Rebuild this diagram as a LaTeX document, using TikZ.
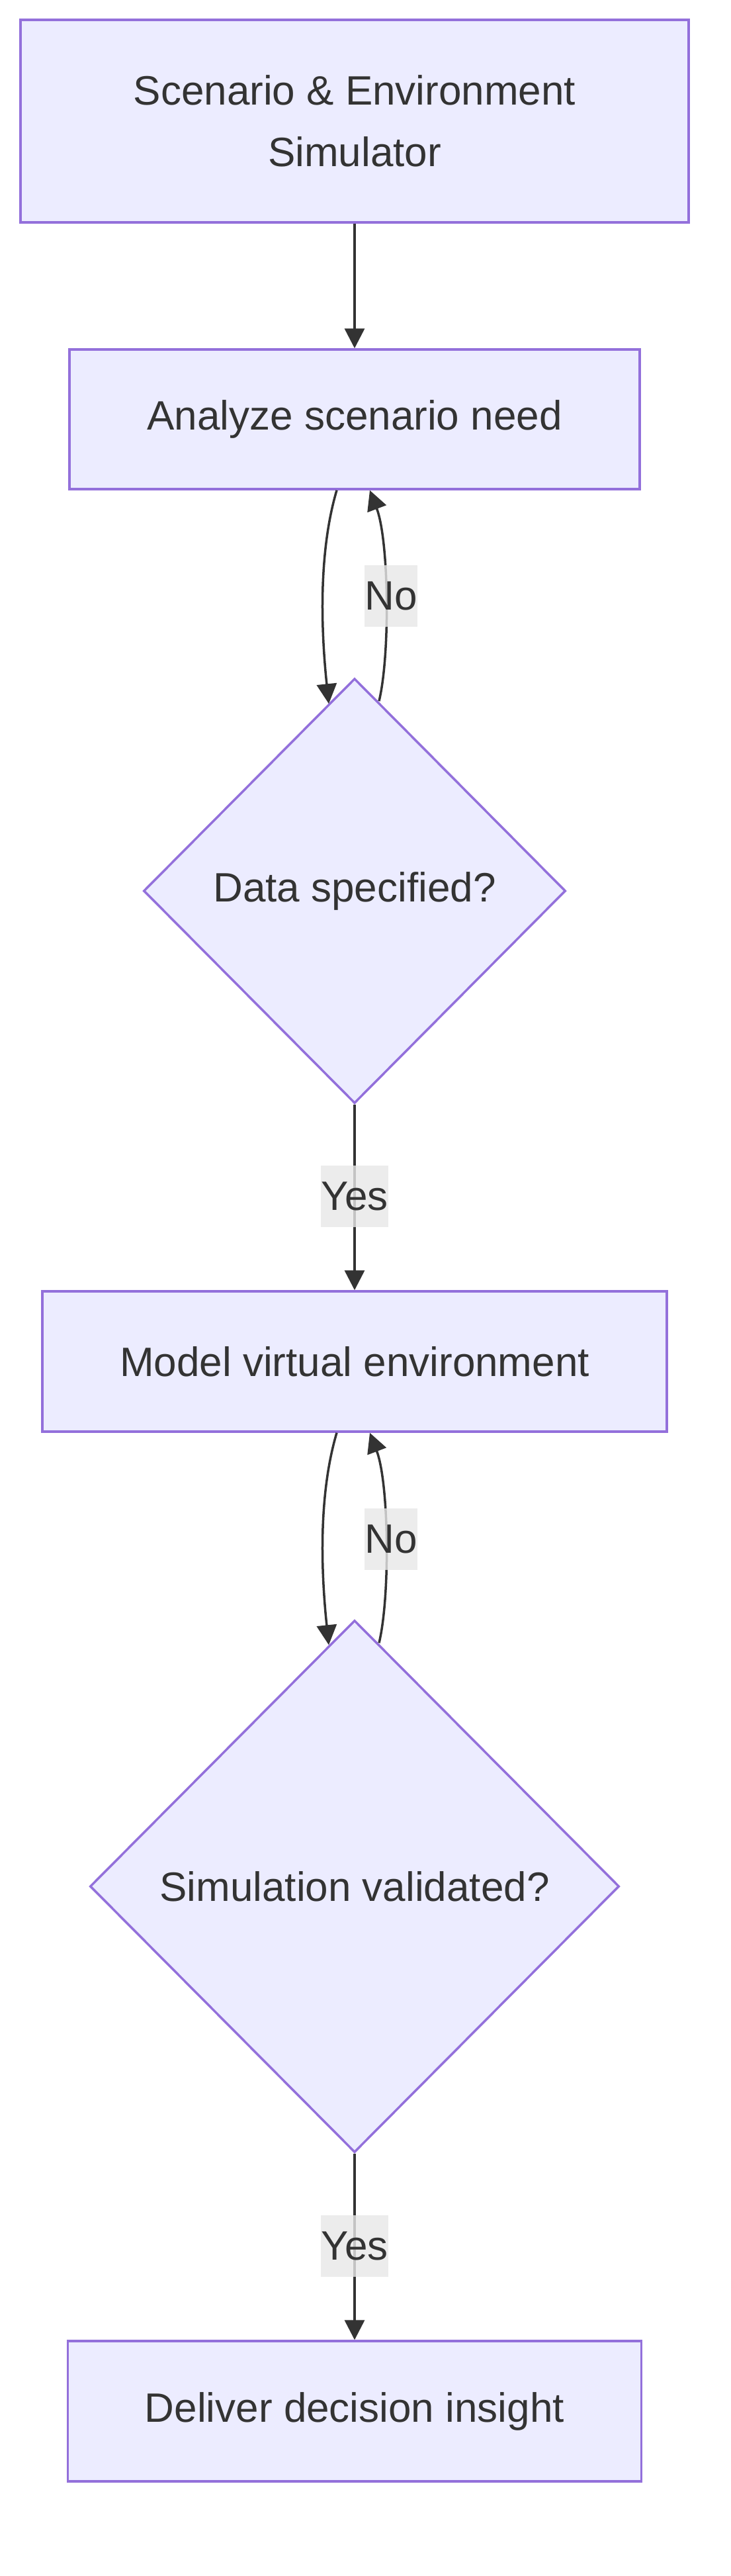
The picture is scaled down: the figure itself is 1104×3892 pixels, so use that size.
\documentclass[tikz,border=0pt]{standalone}
\usepackage{fontspec}
\setmainfont{Liberation Sans}
\usetikzlibrary{arrows.meta,shapes.geometric,calc}
\definecolor{nodefill}{HTML}{ECECFF}
\definecolor{nodeline}{HTML}{9370DB}
\definecolor{txt}{HTML}{333333}
\definecolor{lblbg}{HTML}{E8E8E8}
\begin{document}
\begin{tikzpicture}[x=1pt,y=-1pt,
  txtfont/.style={font=\fontsize{62}{93}\selectfont},
  box/.style={rectangle, draw=nodeline, fill=nodefill, line width=3.5pt, text=txt, txtfont, align=center, inner sep=0pt},
  decision/.style={diamond, aspect=1, draw=nodeline, fill=nodefill, line width=3.5pt, text=txt, txtfont, inner sep=0pt},
  edge/.style={draw=txt, line width=3.5pt, -{Triangle[length=30pt,width=30pt]}},
  lbl/.style={fill=lblbg, fill opacity=0.8, text opacity=1, text=txt, txtfont, inner xsep=0pt, inner ysep=0pt, minimum height=93pt}]
\useasboundingbox (0,0) rectangle (1104,3892);
\fill[white] (0,0) rectangle (1104,3892);

\node[box, minimum width=1010pt, minimum height=306pt] (b1) at (536,183) {Scenario \& Environment\\Simulator};
\node[box, minimum width=862pt, minimum height=211pt] (b2) at (536,633.5) {Analyze scenario need};
\node[decision, minimum width=638pt, minimum height=642pt] (d1) at (536,1346) {Data specified?};
\node[box, minimum width=944pt, minimum height=212pt] (b3) at (536,2057) {Model virtual environment};
\node[decision, minimum width=800pt, minimum height=804pt] (d2) at (536,2850) {Simulation validated?};
\node[box, minimum width=867pt, minimum height=212pt] (b4) at (536,3643) {Deliver decision insight};

% straight edges
\draw[edge] (b1.south) -- (b2.north);
\draw[edge] (d1.south) -- (b3.north);
\draw[edge] (d2.south) -- (b4.north);

% loop 1
\draw[edge] ($(b2.south)+(-27,0)$) .. controls +(-30,101) and +(-10,-95) .. ($(d1.north)+(-39,40)$);
\draw[edge] ($(d1.north)+(37,36)$) .. controls +(17,-71) and +(29,76) .. ($(b2.south)+(23,0)$);

% loop 2
\draw[edge] ($(b3.south)+(-27,0)$) .. controls +(-30,101) and +(-10,-95) .. ($(d2.north)+(-39,39)$);
\draw[edge] ($(d2.north)+(37,36)$) .. controls +(17,-71) and +(29,76) .. ($(b3.south)+(23,0)$);

% labels
\node[lbl] (no1) at (591,900) {No};
\node[lbl] (yes1) at (536,1807) {Yes};
\node[lbl] (no2) at (591,2325) {No};
\node[lbl] (yes2) at (536,3393) {Yes};
\end{tikzpicture}
\end{document}
